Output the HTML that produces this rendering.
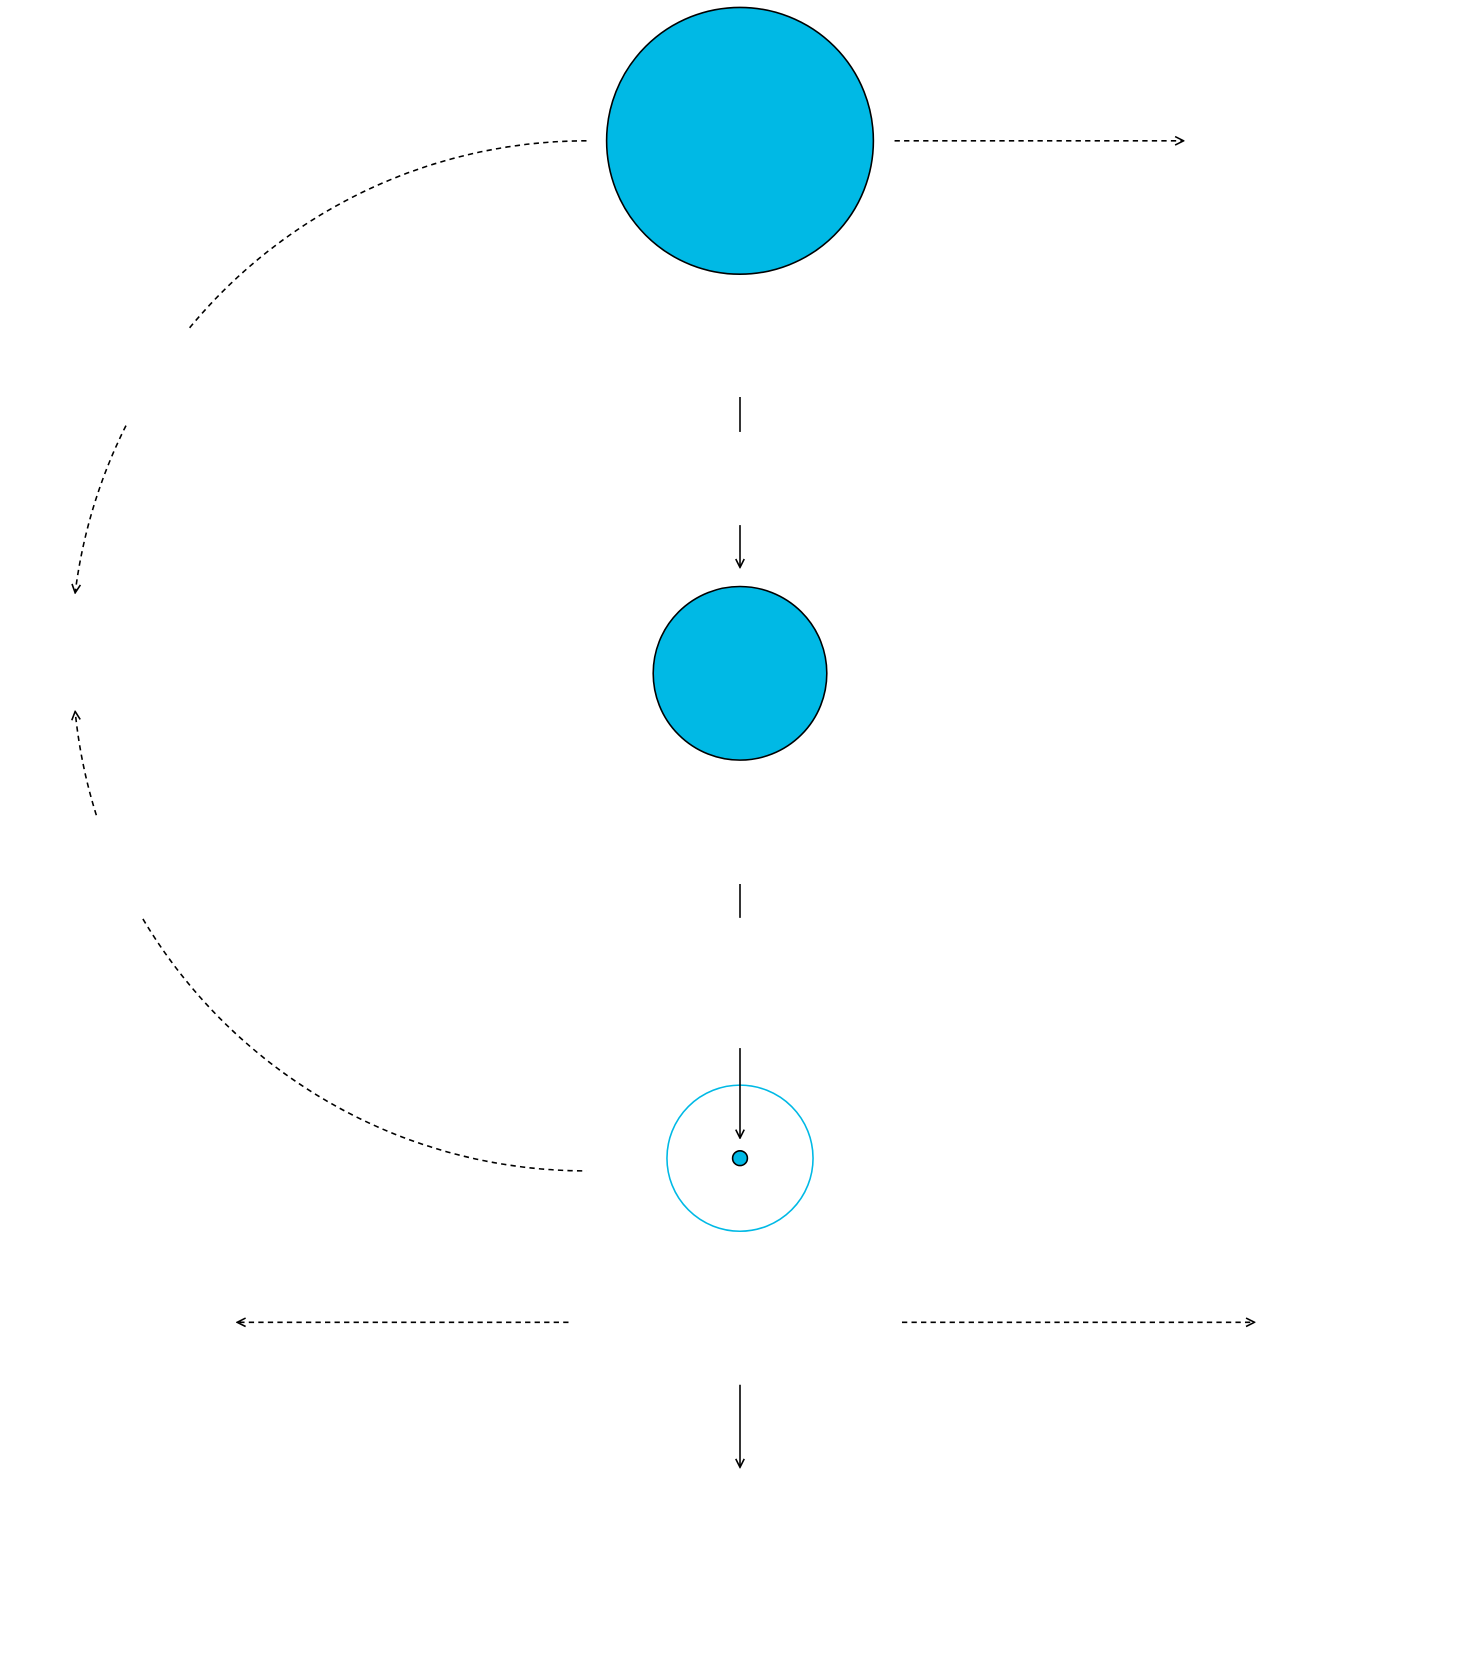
<!DOCTYPE html>
<html><head><meta charset="utf-8"><style>html,body{margin:0;padding:0;background:#fff}svg{display:block}</style></head>
<body>
<svg width="1480" height="1660" viewBox="0 0 1398 1568" preserveAspectRatio="none" xmlns="http://www.w3.org/2000/svg">
<defs>
<marker id="a" viewBox="0 0 10 10" refX="9" refY="5" markerWidth="10" markerHeight="10" markerUnits="userSpaceOnUse" orient="auto">
<path d="M1,1 L9,5 L1,9" fill="none" stroke="#000" stroke-width="1.5"/>
</marker>
</defs>
<g fill="none" stroke="#000" stroke-width="1.5">
<circle cx="699" cy="133" r="126" fill="#00b9e5"/>
<circle cx="699" cy="636" r="82" fill="#00b9e5"/>
<circle cx="699" cy="1094" r="69" stroke="#00b9e5"/>
<circle cx="699" cy="1094" r="7" fill="#00b9e5"/>
<g stroke-dasharray="5,4">
<line x1="845" y1="133" x2="1118" y2="133" marker-end="url(#a)"/>
<line x1="537" y1="1249" x2="224" y2="1249" marker-end="url(#a)"/>
<line x1="852" y1="1249" x2="1185" y2="1249" marker-end="url(#a)"/>
<path d="M554,133 A487,487 0 0 0 178,311"/>
<path d="M119,402 A487,487 0 0 0 71,560" marker-end="url(#a)"/>
<path d="M91,770 A487,487 0 0 1 71,672" marker-end="url(#a)"/>
<path d="M135,868 A487,487 0 0 0 554,1106"/>
</g>
<line x1="699" y1="375" x2="699" y2="408"/>
<line x1="699" y1="496" x2="699" y2="536" marker-end="url(#a)"/>
<line x1="699" y1="835" x2="699" y2="867"/>
<line x1="699" y1="990" x2="699" y2="1075" marker-end="url(#a)"/>
<line x1="699" y1="1308" x2="699" y2="1386" marker-end="url(#a)"/>
</g>
</svg>
</body></html>
